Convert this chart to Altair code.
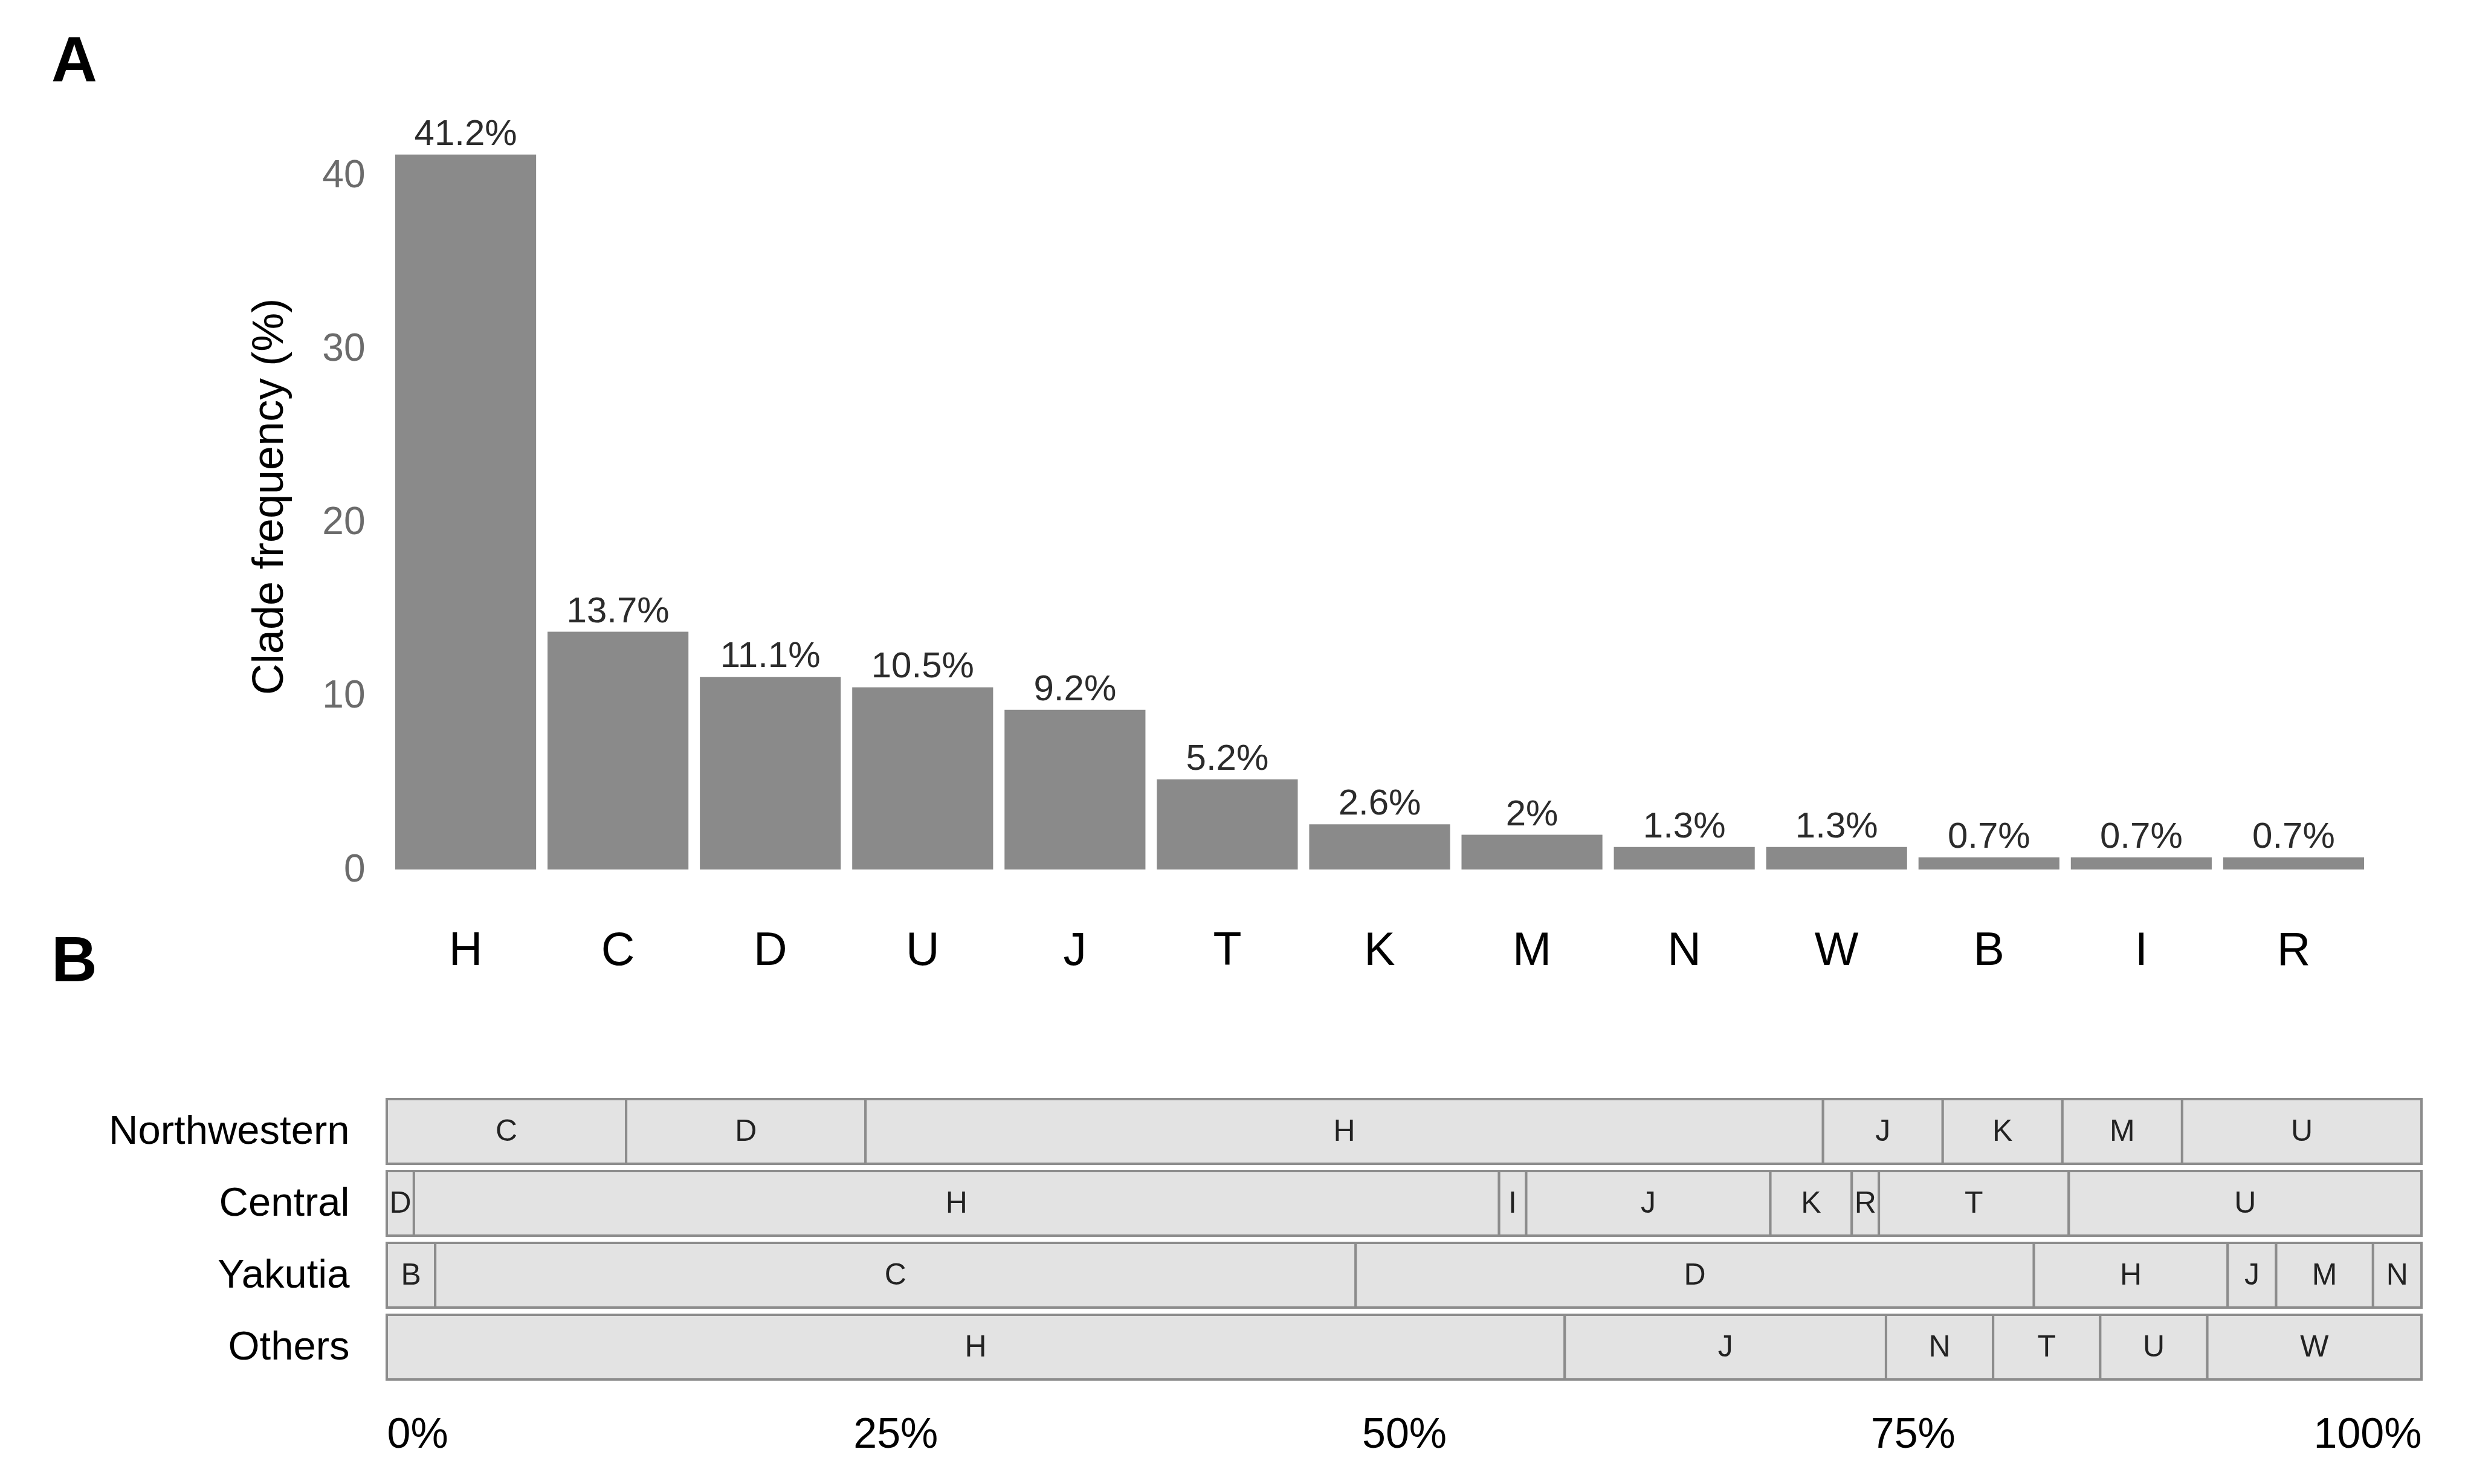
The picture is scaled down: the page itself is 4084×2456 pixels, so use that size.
import altair as alt
import pandas as pd

# ---- Panel A data: overall clade frequency (%) ----
clades = ["H", "C", "D", "U", "J", "T", "K", "M", "N", "W", "B", "I", "R"]
freqs = [41.2, 13.7, 11.1, 10.5, 9.2, 5.2, 2.6, 2, 1.3, 1.3, 0.7, 0.7, 0.7]

# ---- Panel B data: clade counts per region ----
regions = ["Northwestern", "Central", "Yakutia", "Others"]
nw_clades = ["C", "D", "H", "J", "K", "M", "U"]
nw_counts = [2, 2, 8, 1, 1, 1, 2]
ce_clades = ["D", "H", "I", "J", "K", "R", "T", "U"]
ce_counts = [1, 40, 1, 9, 3, 1, 7, 13]
ya_clades = ["B", "C", "D", "H", "J", "M", "N"]
ya_counts = [1, 19, 14, 4, 1, 2, 1]
ot_clades = ["H", "J", "N", "T", "U", "W"]
ot_counts = [11, 3, 1, 1, 1, 2]

pct_ticks = [0, 0.25, 0.5, 0.75, 1]
freq_ticks = [0, 10, 20, 30, 40]

FONT = "Liberation Sans"

# ---------------- Panel A ----------------
dfA = pd.DataFrame({"clade": clades, "freq": freqs})

xA = alt.X(
    "clade:N", sort=clades, title=None,
    scale=alt.Scale(paddingInner=0.075, paddingOuter=0.0555),
    axis=alt.Axis(labelAngle=0, labelFontSize=77, labelColor="black",
                  labelPadding=96, domain=False, ticks=False),
)
yA = alt.Y(
    "freq:Q", title="Clade frequency (%)",
    scale=alt.Scale(domain=[0, 43], nice=False),
    axis=alt.Axis(values=freq_ticks, labelFontSize=64, labelColor="#6b6b6b",
                  labelPadding=36, domain=False, ticks=False, grid=False,
                  titleFontSize=72, titleFontWeight="normal", titleColor="black",
                  titlePadding=50),
)

barsA = alt.Chart(dfA).mark_bar(color="#8a8a8a").encode(x=xA, y=yA)
labelsA = (
    alt.Chart(dfA)
    .transform_calculate(lab="datum.freq + '%'")
    .mark_text(baseline="bottom", dy=-3, fontSize=60, color="#2b2b2b")
    .encode(x=alt.X("clade:N", sort=clades), y="freq:Q", text="lab:N")
)
panelA = alt.layer(barsA, labelsA).properties(
    width=3286, height=1235,
    title=alt.TitleParams("A", anchor="start", frame="group", dx=-555,
                          fontSize=105, fontWeight="bold", color="black", offset=35),
)

# ---------------- Panel B ----------------
rows = []
for r, cl, ct in zip(regions,
                     [nw_clades, ce_clades, ya_clades, ot_clades],
                     [nw_counts, ce_counts, ya_counts, ot_counts]):
    for c, n in zip(cl, ct):
        rows.append({"region": r, "clade": c, "n": n})
dfB = pd.DataFrame(rows)

baseB = (
    alt.Chart(dfB)
    .transform_stack(stack="n", groupby=["region"], as_=["x0", "x1"],
                     offset="normalize",
                     sort=[alt.SortField("clade", order="ascending")])
    .transform_calculate(mid="(datum.x0 + datum.x1) / 2")
)
yB = alt.Y(
    "region:N", sort=regions, title=None,
    scale=alt.Scale(paddingInner=0.1, paddingOuter=0.05),
    axis=alt.Axis(labelFontSize=67, labelColor="black", labelPadding=62,
                  labelLimit=0, domain=False, ticks=False),
)
segs = baseB.mark_bar(fill="#e3e3e3", stroke="#8c8c8c", strokeWidth=4).encode(
    x=alt.X("x0:Q", title=None, scale=alt.Scale(domain=[0, 1], nice=False),
            axis=alt.Axis(format="%", values=pct_ticks, labelFlush=True,
                          labelFontSize=70, labelColor="black", labelPadding=51,
                          domain=False, ticks=False, grid=False)),
    x2="x1:Q",
    y=yB,
)
segtext = baseB.mark_text(fontSize=50, color="#222222").encode(
    x="mid:Q", y=alt.Y("region:N", sort=regions), text="clade:N"
)
panelB = alt.layer(segs, segtext).properties(
    width=3367, height=476,
    title=alt.TitleParams("B", anchor="start", frame="group", dx=-555,
                          fontSize=105, fontWeight="bold", color="black", offset=167),
)

chart = (
    alt.vconcat(panelA, panelB, spacing=374, bounds="flush")
    .properties(padding={"left": 77, "top": 42, "right": 5, "bottom": 5})
    .configure(font=FONT)
    .configure_view(stroke=None)
)

chart.save("out.html", embed_options={"renderer": "svg", "actions": False})
